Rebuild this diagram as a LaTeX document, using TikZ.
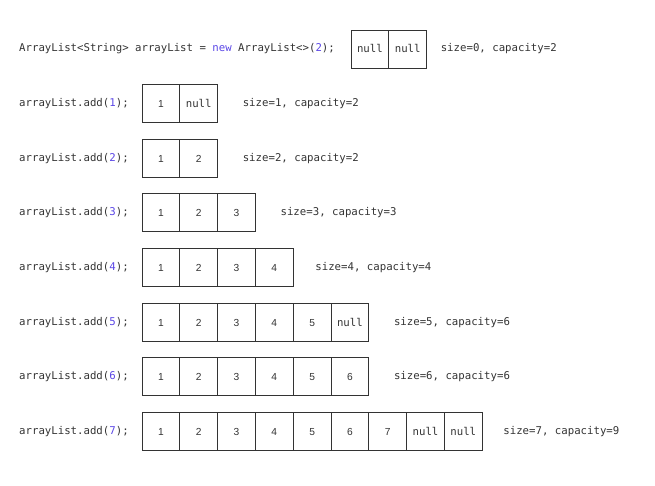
\documentclass[tikz,border=0pt]{standalone}
\usepackage{fontspec}
\setmainfont{Liberation Sans}
\setmonofont{DejaVu Sans Mono}
\usetikzlibrary{positioning}

\definecolor{codegray}{HTML}{333333}
\definecolor{codeblue}{HTML}{5A46E6}
\newcommand{\num}[1]{\textcolor{codeblue}{#1}}
\newcommand{\nl}{{\fontsize{10.7}{12}\ttfamily null}}

\begin{document}
\begin{tikzpicture}[x=1pt,y=-1pt,
        CodeCfg/.style={
            anchor=west,
            inner sep=0pt,
            font=\fontsize{10.7}{12}\ttfamily,
            text=codegray
        },
        CellCfg/.style={
            draw=black!80,
            line width=0.9pt,
            minimum width=37.8pt,
            minimum height=38pt,
            inner sep=0pt,
            outer sep=0pt,
            text height=7.6pt,
            text depth=0pt,
            font=\fontsize{10.2}{12}\selectfont,
            text=codegray
        }
    ]
    \useasboundingbox (0,0) rectangle (655,485);
    
    % new ArrayList
    \node[CodeCfg] (code0) at (19,49) {ArrayList<String> arrayList = \textcolor{codeblue}{new} ArrayList<>(\num{2});};
    \foreach \v [count=\i] in {\nl,\nl}
        \node[CellCfg] (cell0-\i) at ({332.1+37.8*\i},49) {\v};
    \node[CodeCfg] (info0) [right=14pt of cell0-2] {size=0, capacity=2};
    
    % add(1)
    \node[CodeCfg] (code1) at (19,103.6) {arrayList.add(\num{1});};
    \foreach \v [count=\i] in {1,\nl}
        \node[CellCfg] (cell1-\i) at ({123.1+37.8*\i},103.6) {\v};
    \node[CodeCfg] (info1) [right=25pt of cell1-2] {size=1, capacity=2};
    
    % add(2)
    \node[CodeCfg] (code2) at (19,158.3) {arrayList.add(\num{2});};
    \foreach \v [count=\i] in {1,2}
        \node[CellCfg] (cell2-\i) at ({123.1+37.8*\i},158.3) {\v};
    \node[CodeCfg] (info2) [right=25pt of cell2-2] {size=2, capacity=2};
    
    % add(3)
    \node[CodeCfg] (code3) at (19,212.9) {arrayList.add(\num{3});};
    \foreach \v [count=\i] in {1,2,3}
        \node[CellCfg] (cell3-\i) at ({123.1+37.8*\i},212.9) {\v};
    \node[CodeCfg] (info3) [right=25pt of cell3-3] {size=3, capacity=3};
    
    % add(4)
    \node[CodeCfg] (code4) at (19,267.6) {arrayList.add(\num{4});};
    \foreach \v [count=\i] in {1,2,3,4}
        \node[CellCfg] (cell4-\i) at ({123.1+37.8*\i},267.6) {\v};
    \node[CodeCfg] (info4) [right=22pt of cell4-4] {size=4, capacity=4};
    
    % add(5)
    \node[CodeCfg] (code5) at (19,322.2) {arrayList.add(\num{5});};
    \foreach \v [count=\i] in {1,2,3,4,5,\nl}
        \node[CellCfg] (cell5-\i) at ({123.1+37.8*\i},322.2) {\v};
    \node[CodeCfg] (info5) [right=25pt of cell5-6] {size=5, capacity=6};
    
    % add(6)
    \node[CodeCfg] (code6) at (19,376.9) {arrayList.add(\num{6});};
    \foreach \v [count=\i] in {1,2,3,4,5,6}
        \node[CellCfg] (cell6-\i) at ({123.1+37.8*\i},376.9) {\v};
    \node[CodeCfg] (info6) [right=25pt of cell6-6] {size=6, capacity=6};
    
    % add(7)
    \node[CodeCfg] (code7) at (19,431.5) {arrayList.add(\num{7});};
    \foreach \v [count=\i] in {1,2,3,4,5,6,7,\nl,\nl}
        \node[CellCfg] (cell7-\i) at ({123.1+37.8*\i},431.5) {\v};
    \node[CodeCfg] (info7) [right=21pt of cell7-9] {size=7, capacity=9};
    
\end{tikzpicture}
\end{document}
